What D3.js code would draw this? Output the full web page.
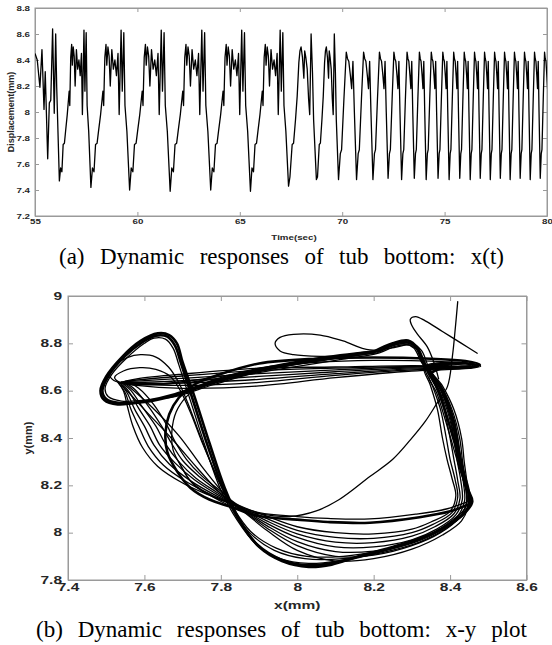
<!DOCTYPE html>
<html>
<head>
<meta charset="utf-8">
<script src="https://cdn.jsdelivr.net/npm/d3@7"></script>
<style>
  body { margin: 0; background: #fff; }
  svg { display: block; }
</style>
</head>
<body>
<div id="chart"></div>
<script>
// ---------- panel (a): x(t) ----------
const timeTicks = [55, 60, 65, 70, 75, 80];
const dispTicks = [7.2, 7.4, 7.6, 7.8, 8, 8.2, 8.4, 8.6, 8.8];

// trace before the first deep dip
const leadIn = [[55.0, 8.45], [55.11, 8.40], [55.24, 8.19], [55.34, 8.48], [55.44, 8.02], [55.50, 8.31],
  [55.62, 7.64], [55.70, 8.07], [55.77, 8.09], [55.86, 8.64], [55.94, 7.99], [56.01, 8.60], [56.06, 8.19]];

// deep dips (start of every cycle)
const dipTimes = [56.19, 57.73, 59.62, 61.60, 63.58, 65.52, 67.38, 68.74, 69.82, 70.70, 71.50, 72.24, 72.90,
  73.52, 74.10, 74.68, 75.22, 75.74, 76.25, 76.74, 77.23, 77.72, 78.20, 78.69, 79.18, 79.67, 80.16];
const dipValues = [7.47, 7.42, 7.40, 7.39, 7.40, 7.39, 7.43, 7.48, 7.48, 7.48, 7.48, 7.49, 7.48,
  7.49, 7.48, 7.49, 7.48, 7.49, 7.48, 7.49, 7.48, 7.49, 7.48, 7.49, 7.48, 7.49, 7.48];
const cycleKind = ["big", "big", "big", "big", "big", "big", "mid", "mid",
  "small", "small", "small", "small", "small", "small", "small", "small", "small",
  "small", "small", "small", "small", "small", "small", "small", "small", "small"];

// wave shape inside one cycle (position between two dips, displacement)
const bigPhase = [0.04, 0.08, 0.12, 0.16, 0.20, 0.25, 0.29, 0.31, 0.33, 0.36, 0.39, 0.41, 0.44, 0.47,
  0.50, 0.54, 0.58, 0.62, 0.66, 0.70, 0.73, 0.78, 0.81, 0.85, 0.88, 0.93];
const bigValue = [7.57, 7.54, 7.75, 7.76, 7.86, 7.98, 8.10, 8.16, 8.05, 8.42, 8.52, 8.36, 8.50, 8.43,
  8.20, 8.48, 8.33, 8.40, 8.28, 8.45, 7.98, 8.63, 8.16, 8.61, 8.05, 7.85];
const midPhase = [0.05, 0.13, 0.18, 0.25, 0.31, 0.37, 0.41, 0.45, 0.50, 0.55, 0.58, 0.62, 0.67, 0.72,
  0.76, 0.81, 0.86, 0.90];
const midValue = [7.50, 7.75, 7.76, 7.94, 8.12, 8.38, 8.47, 8.50, 8.42, 8.26, 8.47, 8.42, 8.33, 8.10,
  7.98, 8.60, 8.30, 7.94];
const smallPhase = [0.10, 0.17, 0.30, 0.43, 0.50, 0.57, 0.66, 0.73, 0.80, 0.88];
const smallValue = [7.68, 7.71, 8.10, 8.46, 8.41, 8.39, 8.28, 8.18, 8.39, 8.00];

// ---------- panel (b): x-y plot ----------
const xmmTicks = [7.4, 7.6, 7.8, 8, 8.2, 8.4, 8.6];
const ymmTicks = [7.8, 8, 8.2, 8.4, 8.6, 8.8, 9];

const triOuterA = [[8.20, 8.765], [8.05, 8.735], [7.90, 8.69], [7.78, 8.64], [7.68, 8.585], [7.60, 8.555], [7.53, 8.542],
  [7.495, 8.56], [7.485, 8.60], [7.50, 8.66], [7.54, 8.74], [7.59, 8.81], [7.635, 8.842], [7.665, 8.835], [7.685, 8.80],
  [7.70, 8.72], [7.73, 8.58], [7.77, 8.38], [7.81, 8.19], [7.85, 8.05], [7.90, 7.94], [7.96, 7.88], [8.03, 7.855],
  [8.09, 7.865], [8.16, 7.90], [8.26, 7.945], [8.36, 8.00], [8.43, 8.07], [8.458, 8.13], [8.445, 8.19], [8.425, 8.33],
  [8.41, 8.47], [8.38, 8.60], [8.335, 8.71], [8.315, 8.78], [8.29, 8.812], [8.25, 8.80], [8.20, 8.765]];
const triOuterB = [[8.22, 8.77], [8.05, 8.73], [7.90, 8.685], [7.78, 8.632], [7.68, 8.58], [7.60, 8.552], [7.535, 8.548],
  [7.50, 8.565], [7.49, 8.60], [7.505, 8.66], [7.545, 8.74], [7.595, 8.805], [7.63, 8.832], [7.66, 8.828], [7.68, 8.79],
  [7.695, 8.72], [7.725, 8.57], [7.765, 8.37], [7.805, 8.19], [7.845, 8.06], [7.895, 7.95], [7.96, 7.885], [8.03, 7.862],
  [8.10, 7.875], [8.18, 7.905], [8.28, 7.95], [8.37, 8.01], [8.435, 8.08], [8.455, 8.135], [8.44, 8.20], [8.42, 8.34],
  [8.405, 8.48], [8.375, 8.61], [8.33, 8.715], [8.31, 8.785], [8.285, 8.805], [8.25, 8.795], [8.22, 8.77]];
const triOuterC = [[8.21, 8.76], [8.05, 8.725], [7.90, 8.68], [7.78, 8.625], [7.68, 8.575], [7.60, 8.56], [7.54, 8.556],
  [7.505, 8.575], [7.497, 8.61], [7.515, 8.67], [7.555, 8.74], [7.60, 8.80], [7.625, 8.822], [7.655, 8.818], [7.675, 8.78],
  [7.69, 8.71], [7.72, 8.56], [7.76, 8.36], [7.80, 8.18], [7.842, 8.055], [7.89, 7.955], [7.955, 7.89], [8.03, 7.87],
  [8.11, 7.882], [8.20, 7.915], [8.30, 7.96], [8.38, 8.02], [8.438, 8.09], [8.452, 8.14], [8.437, 8.21], [8.415, 8.35],
  [8.40, 8.49], [8.37, 8.62], [8.325, 8.72], [8.305, 8.78], [8.28, 8.798], [8.245, 8.788], [8.21, 8.76]];
const cLoop = [[8.454, 8.124], [8.40, 8.09], [8.32, 8.065], [8.19, 8.042], [8.08, 8.045], [8.00, 8.055], [7.90, 8.07],
  [7.825, 8.11], [7.77, 8.14], [7.72, 8.19], [7.685, 8.26], [7.66, 8.34], [7.655, 8.42], [7.665, 8.50], [7.69, 8.57],
  [7.73, 8.625], [7.80, 8.67], [7.90, 8.715], [8.05, 8.735], [8.20, 8.74], [8.35, 8.735], [8.44, 8.725], [8.478, 8.71],
  [8.45, 8.70], [8.38, 8.695], [8.35, 8.67], [8.37, 8.60], [8.39, 8.50], [8.41, 8.39], [8.43, 8.28], [8.447, 8.19], [8.454, 8.124]];
const cLoopInner = [[8.445, 8.13], [8.39, 8.10], [8.31, 8.078], [8.19, 8.058], [8.08, 8.06], [8.00, 8.068], [7.90, 8.085],
  [7.83, 8.12], [7.775, 8.155], [7.73, 8.20], [7.70, 8.27], [7.675, 8.35], [7.672, 8.43], [7.683, 8.51], [7.71, 8.575],
  [7.75, 8.625], [7.82, 8.665], [7.92, 8.70], [8.05, 8.72], [8.20, 8.728], [8.35, 8.725], [8.44, 8.715], [8.47, 8.706],
  [8.44, 8.698], [8.37, 8.69], [8.345, 8.66], [8.365, 8.59], [8.385, 8.49], [8.405, 8.38], [8.425, 8.27], [8.44, 8.19], [8.445, 8.13]];
const innerLoop1 = [[7.56, 8.628], [7.52, 8.643], [7.508, 8.67], [7.525, 8.71], [7.555, 8.74], [7.59, 8.752], [7.63, 8.742],
  [7.663, 8.70], [7.688, 8.64], [7.713, 8.55], [7.748, 8.40], [7.788, 8.24], [7.828, 8.11], [7.875, 8.00], [7.94, 7.925],
  [8.02, 7.89], [8.12, 7.89], [8.22, 7.915], [8.32, 7.96], [8.40, 8.03], [8.445, 8.10], [8.45, 8.15], [8.44, 8.22],
  [8.425, 8.34], [8.41, 8.47], [8.385, 8.59], [8.345, 8.695], [8.325, 8.77], [8.30, 8.80], [8.26, 8.795], [8.21, 8.765],
  [8.10, 8.735], [7.95, 8.70], [7.80, 8.66], [7.65, 8.63], [7.56, 8.628]];
const innerLoop2 = [[7.57, 8.625], [7.535, 8.635], [7.522, 8.656], [7.545, 8.683], [7.588, 8.697], [7.63, 8.69], [7.668, 8.66],
  [7.694, 8.60], [7.72, 8.51], [7.754, 8.37], [7.792, 8.23], [7.83, 8.112], [7.878, 8.005], [7.945, 7.935], [8.025, 7.90],
  [8.12, 7.90], [8.22, 7.925], [8.32, 7.97], [8.395, 8.04], [8.44, 8.105], [8.445, 8.155], [8.437, 8.23], [8.42, 8.35],
  [8.405, 8.48], [8.38, 8.60], [8.34, 8.70], [8.318, 8.765], [8.295, 8.792], [8.258, 8.788], [8.215, 8.76], [8.10, 8.728],
  [7.95, 8.69], [7.80, 8.652], [7.66, 8.628], [7.57, 8.625]];
const fanLoop1 = [[7.53, 8.636], [7.545, 8.60], [7.556, 8.53], [7.57, 8.45], [7.595, 8.36], [7.635, 8.28], [7.70, 8.21],
  [7.77, 8.158], [7.84, 8.11], [7.92, 8.01], [8.00, 7.925], [8.10, 7.88], [8.20, 7.89], [8.30, 7.93], [8.38, 7.99],
  [8.43, 8.05], [8.448, 8.12], [8.445, 8.20], [8.437, 8.30], [8.43, 8.40], [8.41, 8.52], [8.38, 8.62], [8.35, 8.69],
  [8.40, 8.712], [8.465, 8.713], [8.48, 8.703], [8.45, 8.694], [8.30, 8.683], [8.10, 8.655], [7.90, 8.62], [7.70, 8.61],
  [7.58, 8.622], [7.53, 8.636]];
const fanLoop2 = [[7.532, 8.634], [7.55, 8.59], [7.565, 8.52], [7.585, 8.45], [7.61, 8.365], [7.65, 8.285], [7.71, 8.215],
  [7.775, 8.16], [7.84, 8.112], [7.92, 8.02], [8.00, 7.945], [8.10, 7.90], [8.20, 7.905], [8.30, 7.945], [8.375, 8.00],
  [8.425, 8.065], [8.443, 8.13], [8.44, 8.21], [8.432, 8.31], [8.425, 8.40], [8.405, 8.52], [8.375, 8.625], [8.345, 8.69],
  [8.40, 8.708], [8.46, 8.71], [8.475, 8.702], [8.44, 8.695], [8.30, 8.688], [8.10, 8.665], [7.90, 8.635], [7.70, 8.622],
  [7.58, 8.628], [7.532, 8.634]];
const fanLoop3 = [[7.535, 8.635], [7.555, 8.59], [7.575, 8.52], [7.60, 8.45], [7.625, 8.37], [7.665, 8.29], [7.72, 8.22],
  [7.78, 8.163], [7.84, 8.114], [7.92, 8.03], [8.00, 7.962], [8.10, 7.92], [8.20, 7.922], [8.30, 7.955], [8.37, 8.005],
  [8.42, 8.07], [8.438, 8.135], [8.435, 8.21], [8.427, 8.31], [8.42, 8.40], [8.40, 8.52], [8.37, 8.625], [8.345, 8.695],
  [8.40, 8.712], [8.458, 8.712], [8.472, 8.703], [8.44, 8.697], [8.30, 8.692], [8.10, 8.672], [7.90, 8.648], [7.70, 8.632],
  [7.58, 8.63], [7.535, 8.635]];
const fanLoop4 = [[7.538, 8.636], [7.56, 8.595], [7.585, 8.525], [7.615, 8.45], [7.64, 8.37], [7.68, 8.295], [7.73, 8.225],
  [7.785, 8.167], [7.84, 8.116], [7.92, 8.04], [8.00, 7.98], [8.10, 7.94], [8.20, 7.94], [8.30, 7.97], [8.365, 8.015],
  [8.415, 8.075], [8.432, 8.14], [8.428, 8.22], [8.418, 8.31], [8.41, 8.40], [8.392, 8.52], [8.365, 8.625], [8.34, 8.695],
  [8.40, 8.715], [8.455, 8.714], [8.47, 8.705], [8.44, 8.699], [8.30, 8.696], [8.10, 8.68], [7.90, 8.66], [7.70, 8.642],
  [7.58, 8.635], [7.538, 8.636]];
const fanLoop5 = [[7.54, 8.637], [7.565, 8.60], [7.595, 8.53], [7.63, 8.45], [7.655, 8.375], [7.69, 8.30], [7.735, 8.23],
  [7.79, 8.17], [7.84, 8.118], [7.92, 8.05], [8.00, 7.995], [8.10, 7.96], [8.20, 7.958], [8.30, 7.985], [8.36, 8.025],
  [8.41, 8.08], [8.426, 8.145], [8.42, 8.22], [8.41, 8.31], [8.40, 8.40], [8.384, 8.52], [8.36, 8.625], [8.338, 8.697],
  [8.40, 8.716], [8.45, 8.714], [8.465, 8.706], [8.43, 8.70], [8.30, 8.70], [8.10, 8.688], [7.90, 8.672], [7.70, 8.652],
  [7.58, 8.64], [7.54, 8.637]];
const fanLoop6 = [[7.545, 8.638], [7.575, 8.605], [7.61, 8.535], [7.645, 8.45], [7.67, 8.38], [7.70, 8.305], [7.745, 8.235],
  [7.795, 8.172], [7.84, 8.12], [7.92, 8.06], [8.00, 8.01], [8.10, 7.98], [8.20, 7.976], [8.30, 8.00], [8.355, 8.035],
  [8.405, 8.085], [8.42, 8.15], [8.413, 8.225], [8.40, 8.31], [8.39, 8.40], [8.375, 8.52], [8.353, 8.625], [8.335, 8.698],
  [8.40, 8.718], [8.445, 8.716], [8.46, 8.707], [8.425, 8.702], [8.30, 8.703], [8.10, 8.695], [7.90, 8.685], [7.70, 8.662],
  [7.58, 8.645], [7.545, 8.638]];
const fanLoop7 = [[7.55, 8.64], [7.585, 8.61], [7.625, 8.54], [7.66, 8.45], [7.68, 8.385], [7.71, 8.31], [7.75, 8.24],
  [7.80, 8.175], [7.84, 8.122], [7.92, 8.07], [8.00, 8.025], [8.10, 8.00], [8.20, 7.995], [8.30, 8.015], [8.35, 8.045],
  [8.40, 8.09], [8.415, 8.155], [8.405, 8.23], [8.392, 8.31], [8.38, 8.40], [8.367, 8.52], [8.348, 8.625], [8.332, 8.70],
  [8.40, 8.72], [8.44, 8.717], [8.455, 8.708], [8.42, 8.704], [8.30, 8.706], [8.10, 8.70], [7.90, 8.695], [7.70, 8.67],
  [7.58, 8.65], [7.55, 8.64]];
const fanDiagonal1 = [[7.54, 8.625], [7.60, 8.52], [7.67, 8.40], [7.74, 8.27], [7.80, 8.165], [7.84, 8.115]];
const fanDiagonal2 = [[7.55, 8.63], [7.62, 8.53], [7.69, 8.41], [7.75, 8.28], [7.80, 8.18], [7.835, 8.12]];
const transientA = [[7.69, 8.30], [7.72, 8.22], [7.77, 8.16], [7.83, 8.11], [7.90, 8.08], [7.98, 8.068], [8.05, 8.092],
  [8.11, 8.14], [8.19, 8.237], [8.25, 8.31], [8.296, 8.392], [8.335, 8.47], [8.365, 8.545], [8.393, 8.617], [8.406, 8.744],
  [8.414, 8.87], [8.42, 8.976]];
const transientB = [[8.30, 8.80], [8.19, 8.772], [8.12, 8.81], [8.06, 8.835], [7.99, 8.838], [7.955, 8.825], [7.942, 8.80],
  [7.955, 8.768], [7.99, 8.752], [8.06, 8.745], [8.15, 8.748]];
const transientC = [[8.471, 8.758], [8.43, 8.80], [8.38, 8.85], [8.335, 8.895], [8.31, 8.913], [8.296, 8.902],
  [8.30, 8.875], [8.314, 8.84], [8.34, 8.786], [8.357, 8.722], [8.37, 8.65]];

const boldCurves = [triOuterA, triOuterB, cLoop];
const thinCurves = [triOuterC, cLoopInner, innerLoop1, innerLoop2, fanLoop1, fanLoop2, fanLoop3, fanLoop4,
  fanLoop5, fanLoop6, fanLoop7, fanDiagonal1, fanDiagonal2, transientA, transientB, transientC];

// ---------- drawing ----------
const axisGray = "#9a9a9a";
const labelColor = "#262626";
const sans = "Liberation Sans, Arial, sans-serif";
const svg = d3.select("#chart").append("svg").attr("width", 552).attr("height", 645);

function styleAxis(g, stretch, fontSize, anchorX) {
  g.select(".domain").attr("stroke", axisGray);
  g.selectAll(".tick line").attr("stroke", axisGray);
  g.selectAll("text")
    .attr("fill", labelColor)
    .attr("font-family", sans)
    .attr("font-weight", "bold")
    .attr("font-size", fontSize)
    .attr("transform", `scale(${stretch},1)`);
  if (anchorX !== undefined) g.selectAll("text").attr("x", anchorX / stretch);
}

// justified caption: spread the words so the line runs from x0 to x1
function caption(text, x0, x1, y) {
  const t = svg.append("text")
    .attr("x", x0).attr("y", y)
    .attr("font-family", "Liberation Serif, Times New Roman, serif")
    .attr("font-size", 23).attr("fill", "#000")
    .text(text);
  const natural = t.node().getComputedTextLength();
  const gaps = text.split(" ").length - 1;
  t.attr("word-spacing", Math.max(0, (x1 - x0 - natural) / gaps));
}

// panel (a)
const xa = d3.scaleLinear().domain([55, 80]).range([35, 547]);
const ya = d3.scaleLinear().domain([7.2, 8.8]).range([216, 8]);

const series = leadIn.map(([t, v]) => ({ t, v }));
const shapes = { big: [bigPhase, bigValue], mid: [midPhase, midValue], small: [smallPhase, smallValue] };
for (let i = 0; i < dipTimes.length - 1; i++) {
  const t0 = dipTimes[i], t1 = dipTimes[i + 1];
  series.push({ t: t0, v: dipValues[i] });
  const [ph, vals] = shapes[cycleKind[i]];
  ph.forEach((p, j) => series.push({ t: t0 + p * (t1 - t0), v: vals[j] }));
}
series.push({ t: dipTimes[dipTimes.length - 1], v: dipValues[dipValues.length - 1] });

svg.append("clipPath").attr("id", "clipA").append("rect")
  .attr("x", xa(55)).attr("y", ya(8.8)).attr("width", xa(80) - xa(55)).attr("height", ya(7.2) - ya(8.8));

svg.append("rect")
  .attr("x", xa(55)).attr("y", ya(8.8)).attr("width", xa(80) - xa(55)).attr("height", ya(7.2) - ya(8.8))
  .attr("fill", "none").attr("stroke", axisGray);

const fmt = (d) => d3.format("~g")(d);

svg.append("g").attr("transform", `translate(0,${ya(7.2)})`)
  .call(d3.axisBottom(xa).tickValues(timeTicks).tickSize(-4).tickSizeOuter(0).tickPadding(3).tickFormat(fmt))
  .call((g) => styleAxis(g, 1.3, 7.5));
svg.append("g").attr("transform", `translate(0,${ya(8.8)})`)
  .call(d3.axisTop(xa).tickValues(timeTicks).tickSize(-4).tickSizeOuter(0).tickFormat(""))
  .call((g) => styleAxis(g, 1, 8));
svg.append("g").attr("transform", `translate(${xa(55)},0)`)
  .call(d3.axisLeft(ya).tickValues(dispTicks).tickSize(-4).tickSizeOuter(0).tickPadding(5).tickFormat(fmt))
  .call((g) => styleAxis(g, 1.3, 7.5, -5));
svg.append("g").attr("transform", `translate(${xa(80)},0)`)
  .call(d3.axisRight(ya).tickValues(dispTicks).tickSize(-4).tickSizeOuter(0).tickFormat(""))
  .call((g) => styleAxis(g, 1, 8));

svg.append("path")
  .datum(series)
  .attr("clip-path", "url(#clipA)")
  .attr("fill", "none")
  .attr("stroke", "#000")
  .attr("stroke-width", 1.3)
  .attr("stroke-linejoin", "round")
  .attr("d", d3.line().x((d) => xa(d.t)).y((d) => ya(d.v)));

svg.append("text")
  .attr("transform", `translate(${(xa(55) + xa(80)) / 2 + 3},240) scale(1.3,1)`)
  .attr("text-anchor", "middle")
  .attr("font-family", sans)
  .attr("font-weight", "bold").attr("font-size", 7.5).attr("fill", labelColor)
  .text("Time(sec)");
svg.append("text")
  .attr("transform", `translate(14,${(ya(7.2) + ya(8.8)) / 2}) rotate(-90)`)
  .attr("text-anchor", "middle")
  .attr("font-family", sans)
  .attr("font-weight", "bold").attr("font-size", 9).attr("fill", labelColor)
  .text("Displacement(mm)");

caption("(a) Dynamic responses of tub bottom: x(t)", 59, 504, 264);

// panel (b)
const xb = d3.scaleLinear().domain([7.4, 8.6]).range([68, 526.5]);
const yb = d3.scaleLinear().domain([7.8, 9]).range([580, 296]);

svg.append("rect")
  .attr("x", xb(7.4)).attr("y", yb(9)).attr("width", xb(8.6) - xb(7.4)).attr("height", yb(7.8) - yb(9))
  .attr("fill", "none").attr("stroke", axisGray);

svg.append("g").attr("transform", `translate(0,${yb(7.8)})`)
  .call(d3.axisBottom(xb).tickValues(xmmTicks).tickSize(-5).tickSizeOuter(0).tickPadding(4).tickFormat(fmt))
  .call((g) => styleAxis(g, 1.55, 10));
svg.append("g").attr("transform", `translate(0,${yb(9)})`)
  .call(d3.axisTop(xb).tickValues(xmmTicks).tickSize(-5).tickSizeOuter(0).tickFormat(""))
  .call((g) => styleAxis(g, 1, 10));
svg.append("g").attr("transform", `translate(${xb(7.4)},0)`)
  .call(d3.axisLeft(yb).tickValues(ymmTicks).tickSize(-5).tickSizeOuter(0).tickPadding(6).tickFormat(fmt))
  .call((g) => styleAxis(g, 1.55, 10, -6));
svg.append("g").attr("transform", `translate(${xb(8.6)},0)`)
  .call(d3.axisRight(yb).tickValues(ymmTicks).tickSize(-5).tickSizeOuter(0).tickFormat(""))
  .call((g) => styleAxis(g, 1, 10));

const orbitLine = d3.line()
  .x((d) => xb(d[0]))
  .y((d) => yb(d[1]))
  .curve(d3.curveCatmullRom.alpha(0.5));

const orbits = svg.append("g").attr("fill", "none").attr("stroke", "#000")
  .attr("stroke-linejoin", "round").attr("stroke-linecap", "round");
orbits.selectAll("path.thin").data(thinCurves).join("path")
  .attr("class", "thin").attr("stroke-width", 1.3).attr("d", orbitLine);
orbits.selectAll("path.bold").data(boldCurves).join("path")
  .attr("class", "bold").attr("stroke-width", 2.6).attr("d", orbitLine);

svg.append("text")
  .attr("transform", `translate(${(xb(7.4) + xb(8.6)) / 2},609) scale(1.55,1)`)
  .attr("text-anchor", "middle")
  .attr("font-family", sans)
  .attr("font-weight", "bold").attr("font-size", 10).attr("fill", labelColor)
  .text("x(mm)");
svg.append("text")
  .attr("transform", `translate(32,${(yb(7.8) + yb(9)) / 2}) rotate(-90)`)
  .attr("text-anchor", "middle")
  .attr("font-family", sans)
  .attr("font-weight", "bold").attr("font-size", 11).attr("fill", labelColor)
  .text("y(mm)");

caption("(b) Dynamic responses of tub bottom: x-y plot", 36, 527, 637);
</script>
</body>
</html>
